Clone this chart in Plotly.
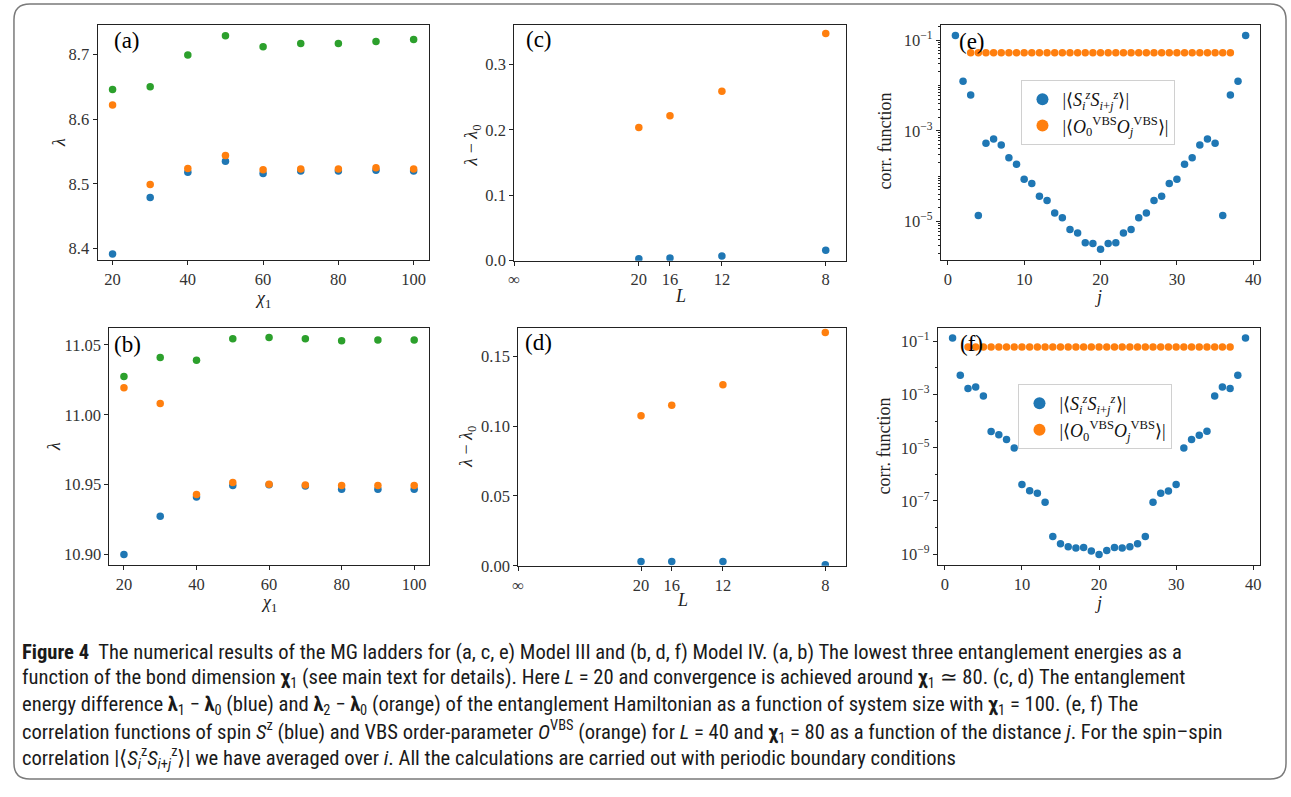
import plotly.graph_objects as go
from plotly.subplots import make_subplots

W, H = 1291, 797

# ---------------- data ----------------
chi = [20, 30, 40, 50, 60, 70, 80, 90, 100]
a_lam0 = [8.392, 8.479, 8.518, 8.535, 8.516, 8.520, 8.520, 8.521, 8.520]
a_lam1 = [8.622, 8.499, 8.524, 8.544, 8.522, 8.523, 8.523, 8.525, 8.523]
a_lam2 = [8.646, 8.650, 8.699, 8.729, 8.712, 8.717, 8.717, 8.720, 8.723]

b_lam0 = [10.900, 10.9275, 10.9412, 10.9495, 10.950, 10.949, 10.9467, 10.9467, 10.9467]
b_lam1 = [11.0194, 11.0081, 10.943, 10.9516, 10.9504, 10.9497, 10.9495, 10.9495, 10.9495]
b_lam2 = [11.0274, 11.041, 11.039, 11.0544, 11.0552, 11.0544, 11.053, 11.0535, 11.0535]

L_sizes = [20, 16, 12, 8]
c_gap1 = [0.003, 0.004, 0.007, 0.016]
c_gap2 = [0.2038, 0.2219, 0.2593, 0.3475]
d_gap1 = [0.0031, 0.0031, 0.0031, 0.0007]
d_gap2 = [0.1074, 0.1149, 0.1295, 0.167]
L_tick_labels = ["∞", "20", "16", "12", "8"]

j_spin = list(range(1, 40))
e_spin = [1.26e-1, 1.24e-2, 6.2e-3, 1.37e-5, 5.35e-4, 6.6e-4, 4.9e-4, 2.56e-4, 1.83e-4,
          8.6e-5, 6.9e-5, 3.6e-5, 2.9e-5, 1.55e-5, 1.22e-5, 6.7e-6, 5.6e-6, 3.4e-6, 3.3e-6,
          2.46e-6, 3.3e-6, 3.4e-6, 5.6e-6, 6.7e-6, 1.22e-5, 1.55e-5, 2.9e-5, 3.6e-5, 6.9e-5,
          8.6e-5, 1.83e-4, 2.56e-4, 4.9e-4, 6.6e-4, 5.35e-4, 1.37e-5, 6.2e-3, 1.24e-2, 1.26e-1]
f_spin = [1.33e-1, 5.32e-3, 1.71e-3, 1.91e-3, 8.85e-4, 4.09e-5, 3.08e-5, 2.07e-5, 9.86e-6,
          4.18e-7, 2.43e-7, 1.94e-7, 9.0e-8, 4.66e-9, 2.49e-9, 1.92e-9, 1.72e-9, 1.77e-9, 1.33e-9,
          9.7e-10, 1.37e-9, 1.77e-9, 1.72e-9, 1.92e-9, 2.49e-9, 4.66e-9, 9.0e-8, 1.94e-7, 2.37e-7,
          4.18e-7, 9.86e-6, 2.07e-5, 2.99e-5, 4.21e-5, 8.85e-4, 1.91e-3, 1.71e-3, 5.32e-3, 1.33e-1]
j_vbs = [3, 4, 5, 6, 7, 8, 9, 10, 11, 12, 13, 14, 15, 16, 17, 18, 19, 20, 21, 22, 23, 24, 25,
         26, 27, 28, 29, 30, 31, 32, 33, 34, 35, 36, 37]
e_vbs = [0.053, 0.053, 0.053, 0.053, 0.053, 0.053, 0.053, 0.053, 0.053, 0.053, 0.053, 0.053,
         0.053, 0.053, 0.053, 0.053, 0.053, 0.053, 0.053, 0.053, 0.053, 0.053, 0.053, 0.053,
         0.053, 0.053, 0.053, 0.053, 0.053, 0.053, 0.053, 0.053, 0.053, 0.053, 0.053]
f_vbs = [0.0617, 0.0617, 0.0617, 0.0617, 0.0617, 0.0617, 0.0617, 0.0617, 0.0617, 0.0617,
         0.0617, 0.0617, 0.0617, 0.0617, 0.0617, 0.0617, 0.0617, 0.0617, 0.0617, 0.0617,
         0.0617, 0.0617, 0.0617, 0.0617, 0.0617, 0.0617, 0.0617, 0.0617, 0.0617, 0.0617,
         0.0617, 0.0617, 0.0617, 0.0617, 0.0617]

caption_lines = [
    "<b>Figure 4</b>  The numerical results of the MG ladders for (a, c, e) Model III and (b, d, f) Model IV. (a, b) The lowest three entanglement energies as a",
    "function of the bond dimension <b>χ</b><sub>1</sub> (see main text for details). Here <i>L</i> = 20 and convergence is achieved around <b>χ</b><sub>1</sub> ≃ 80. (c, d) The entanglement",
    "energy difference <b>λ</b><sub>1</sub> − <b>λ</b><sub>0</sub> (blue) and <b>λ</b><sub>2</sub> − <b>λ</b><sub>0</sub> (orange) of the entanglement Hamiltonian as a function of system size with <b>χ</b><sub>1</sub> = 100. (e, f) The",
    "correlation functions of spin <i>S</i><sup>z</sup> (blue) and VBS order-parameter <i>O</i><sup>VBS</sup> (orange) for <i>L</i> = 40 and <b>χ</b><sub>1</sub> = 80 as a function of the distance <i>j</i>. For the spin–spin",
    "correlation |⟨<i>S</i><sub><i>i</i></sub><sup>z</sup><i>S</i><sub><i>i</i>+<i>j</i></sub><sup>z</sup>⟩| we have averaged over <i>i</i>. All the calculations are carried out with periodic boundary conditions",
]

BLUE, ORANGE, GREEN = "#1f77b4", "#ff7f0e", "#2ca02c"
SERIF = "Liberation Serif"
MS = 7.5
TICKFONT = dict(family=SERIF, size=16.5, color="#333")


def px_x(p):
    return p / W


def px_y(p):
    return 1 - p / H


fig = make_subplots(rows=2, cols=3)

# subplot order: (1,1)=a, (1,2)=c, (1,3)=e, (2,1)=b, (2,2)=d, (2,3)=f
boxes = {
    1: (92, 425, 25, 263),
    2: (511, 845, 25, 264),
    3: (940, 1261, 25, 263),
    4: (104, 425, 332, 572),
    5: (515, 845, 332, 573),
    6: (937, 1261, 332, 572),
}


def sc(x, y, color, row, col, name=None, legend=None, showlegend=False):
    fig.add_trace(go.Scatter(x=x, y=y, mode="markers", name=name,
                             marker=dict(color=color, size=MS, line=dict(width=0)),
                             showlegend=showlegend, legend=legend),
                  row=row, col=col)


# (a)
sc(chi, a_lam0, BLUE, 1, 1)
sc(chi, a_lam1, ORANGE, 1, 1)
sc(chi, a_lam2, GREEN, 1, 1)
# (b)
sc(chi, b_lam0, BLUE, 2, 1)
sc(chi, b_lam1, ORANGE, 2, 1)
sc(chi, b_lam2, GREEN, 2, 1)
# (c), (d): x = 1/L
invL = [1.0 / L for L in L_sizes]
sc(invL, c_gap1, BLUE, 1, 2)
sc(invL, c_gap2, ORANGE, 1, 2)
sc(invL, d_gap1, BLUE, 2, 2)
sc(invL, d_gap2, ORANGE, 2, 2)
# (e), (f)
lab_spin = "|⟨<i>S</i><sub><i>i</i></sub><sup><i>z</i></sup><i>S</i><sub><i>i</i>+<i>j</i></sub><sup><i>z</i></sup>⟩|"
lab_vbs = "|⟨<i>O</i><sub>0</sub><sup>VBS</sup><i>O</i><sub><i>j</i></sub><sup>VBS</sup>⟩|"
sc(j_spin, e_spin, BLUE, 1, 3, lab_spin, "legend", True)
sc(j_vbs, e_vbs, ORANGE, 1, 3, lab_vbs, "legend", True)
sc(j_spin, f_spin, BLUE, 2, 3, lab_spin, "legend2", True)
sc(j_vbs, f_vbs, ORANGE, 2, 3, lab_vbs, "legend2", True)

axcommon = dict(showline=True, mirror=True, linecolor="#222", linewidth=1,
                ticks="outside", ticklen=4, tickwidth=1, tickcolor="#222",
                showgrid=False, zeroline=False)

chi_ticks = [20, 40, 60, 80, 100]
axes_spec = {
    "xaxis": dict(range=[16, 104], tickvals=chi_ticks),
    "yaxis": dict(range=[8.383, 8.746], tickvals=[8.4, 8.5, 8.6, 8.7], tickformat=".1f"),
    "xaxis4": dict(range=[16, 104], tickvals=chi_ticks),
    "yaxis4": dict(range=[10.8927, 11.0622], tickvals=[10.90, 10.95, 11.00, 11.05], tickformat=".2f"),
    "xaxis2": dict(range=[0, 0.1333], tickvals=[0] + invL, ticktext=L_tick_labels),
    "yaxis2": dict(range=[0, 0.361], tickvals=[0, 0.1, 0.2, 0.3], tickformat=".1f"),
    "xaxis5": dict(range=[0, 0.1336], tickvals=[0] + invL, ticktext=L_tick_labels),
    "yaxis5": dict(range=[0, 0.1703], tickvals=[0, 0.05, 0.10, 0.15], tickformat=".2f"),
    "xaxis3": dict(range=[-0.9, 40.9], tickvals=[0, 10, 20, 30, 40]),
    "xaxis6": dict(range=[-0.9, 40.9], tickvals=[0, 10, 20, 30, 40]),
}
minor_e = [k * 10.0 ** n for n in range(-6, 0) for k in range(1, 10)
           if not (k == 1 and n in (-1, -3, -5))]
minor_f = [10.0 ** n for n in (-2, -4, -6, -8)]
axes_spec["yaxis3"] = dict(type="log", range=[-5.84, -0.66],
                           tickvals=[1e-1, 1e-3, 1e-5],
                           ticktext=["10<sup>−1</sup>", "10<sup>−3</sup>", "10<sup>−5</sup>"],
                           minor=dict(ticks="outside", ticklen=2, tickcolor="#222", tickvals=minor_e))
axes_spec["yaxis6"] = dict(type="log", range=[-9.40, -0.49],
                           tickvals=[1e-1, 1e-3, 1e-5, 1e-7, 1e-9],
                           ticktext=["10<sup>−1</sup>", "10<sup>−3</sup>", "10<sup>−5</sup>",
                                     "10<sup>−7</sup>", "10<sup>−9</sup>"],
                           minor=dict(ticks="outside", ticklen=2, tickcolor="#222", tickvals=minor_f))

for i, (x0, x1, y0, y1) in boxes.items():
    sx = "" if i == 1 else str(i)
    xa, ya = "xaxis" + sx, "yaxis" + sx
    xs = dict(axcommon, tickfont=TICKFONT, domain=[px_x(x0), px_x(x1)], **axes_spec[xa])
    ys = dict(axcommon, tickfont=TICKFONT, domain=[px_y(y1), px_y(y0)], **axes_spec[ya])
    fig.update_layout({xa: xs, ya: ys})

legfont = dict(family=SERIF, size=18, color="#111")
fig.update_layout(
    legend=dict(x=px_x(1021), y=px_y(81), xanchor="left", yanchor="top",
                bordercolor="#d0d0d0", borderwidth=1, bgcolor="rgba(255,255,255,0.8)",
                font=legfont, itemsizing="constant", tracegroupgap=4),
    legend2=dict(x=px_x(1018), y=px_y(389), xanchor="left", yanchor="top",
                 bordercolor="#d0d0d0", borderwidth=1, bgcolor="rgba(255,255,255,0.8)",
                 font=legfont, itemsizing="constant", tracegroupgap=4),
)

ann = []


def text(x, y, s, size=18, angle=0, family=SERIF, anchor="center", color="#222"):
    ann.append(dict(x=px_x(x), y=px_y(y), xref="paper", yref="paper", text=s,
                    showarrow=False, textangle=angle, xanchor=anchor, yanchor="middle",
                    font=dict(family=family, size=size, color=color)))


# panel labels
for lab, (x, y) in {"(a)": (122, 41), "(b)": (122, 349), "(c)": (536, 40),
                    "(d)": (535, 347), "(e)": (971, 42), "(f)": (971, 348)}.items():
    text(x, y, lab, size=23, color="#000")

# axis titles
text(258, 303, "<i>χ</i><sub>1</sub>")
text(264, 611, "<i>χ</i><sub>1</sub>")
text(53, 144, "<i>λ</i>", angle=-90)
text(49, 452, "<i>λ</i>", angle=-90)
text(678, 300, "<i>L</i>")
text(680, 608, "<i>L</i>")
text(469, 147, "<i>λ</i> − <i>λ</i><sub>0</sub>", angle=-90)
text(464, 452, "<i>λ</i> − <i>λ</i><sub>0</sub>", angle=-90)
text(1098, 301, "<i>j</i>")
text(1098, 611, "<i>j</i>")
text(884, 143, "corr. function", angle=-90)
text(883, 452, "corr. function", angle=-90)

# caption
cap_font = "Liberation Sans Narrow, Roboto Condensed, Arial Narrow, Roboto"
for k, line in enumerate(caption_lines):
    text(14, 660 + 27 * k, line, size=20.6, family=cap_font, anchor="left", color="#1a1a1a")

fig.update_layout(annotations=ann, font=dict(family=SERIF, color="#222"))

# rounded outer frame
x0, x1, y0, y1, r = 8, 1287, 4, 789, 16


def P(x, y):
    return f"{px_x(x):.5f},{px_y(y):.5f}"


path = (f"M {P(x0 + r, y0)} L {P(x1 - r, y0)} Q {P(x1, y0)} {P(x1, y0 + r)} "
        f"L {P(x1, y1 - r)} Q {P(x1, y1)} {P(x1 - r, y1)} "
        f"L {P(x0 + r, y1)} Q {P(x0, y1)} {P(x0, y1 - r)} "
        f"L {P(x0, y0 + r)} Q {P(x0, y0)} {P(x0 + r, y0)} Z")
fig.add_shape(type="path", path=path, xref="paper", yref="paper",
              line=dict(color="#7a7a7a", width=1.5), layer="below")

fig.update_layout(width=W, height=H, margin=dict(l=0, r=0, t=0, b=0),
                  paper_bgcolor="white", plot_bgcolor="white")

fig.write_html("out.html")
